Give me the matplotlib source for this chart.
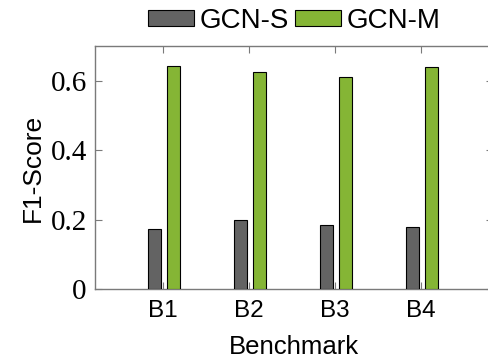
import matplotlib
matplotlib.use("Agg")
import matplotlib.pyplot as plt
import numpy as np

benchmarks = ["B1", "B2", "B3", "B4"]
gcn_s = [0.174, 0.199, 0.184, 0.178]
gcn_m = [0.642, 0.626, 0.611, 0.640]
y_ticks = [0, 0.2, 0.4, 0.6]
y_tick_labels = ["0", "0.2", "0.4", "0.6"]

GRAY_BAR = "#636363"
GREEN_BAR = "#85b535"
FRAME = "#7a7a7a"

plt.rcParams["font.family"] = ["Liberation Sans", "DejaVu Sans"]

fig = plt.figure(figsize=(4.88, 3.6), dpi=100)
# right spine sits just past the image edge, as in the reference crop
ax = fig.add_axes([0.195, 0.197, 0.816, 0.675])

x = np.arange(1, len(benchmarks) + 1)
width = 0.16
ax.bar(x - 0.10, gcn_s, width, color=GRAY_BAR, edgecolor="black", linewidth=0.8, label="GCN-S", zorder=3)
ax.bar(x + 0.12, gcn_m, width, color=GREEN_BAR, edgecolor="black", linewidth=0.8, label="GCN-M", zorder=3)

ax.set_xlim(0.21, 4.84)
ax.set_ylim(0, 0.7)
ax.set_xticks(x)
ax.set_xticklabels(benchmarks, fontsize=17.5)
ax.set_yticks(y_ticks)
ax.set_yticklabels(y_tick_labels, fontsize=21, family="Liberation Serif")

ax.tick_params(axis="both", direction="in", length=5, color=FRAME, width=0.8,
               top=True, right=True)
ax.tick_params(axis="x", pad=8)
ax.tick_params(axis="y", pad=6)
for spine in ax.spines.values():
    spine.set_color(FRAME)
    spine.set_linewidth(1.0)

ax.set_xlabel("Benchmark", fontsize=18.5, labelpad=9)
ax.set_ylabel("F1-Score", fontsize=19, labelpad=4)

ax.legend(loc="lower center", bbox_to_anchor=(0.5, 1.0), ncol=2, frameon=False,
          fontsize=20, handlelength=1.65, handleheight=0.5, handletextpad=0.2,
          columnspacing=0.25, borderaxespad=0.05)

fig.savefig("out.png", dpi=100)
